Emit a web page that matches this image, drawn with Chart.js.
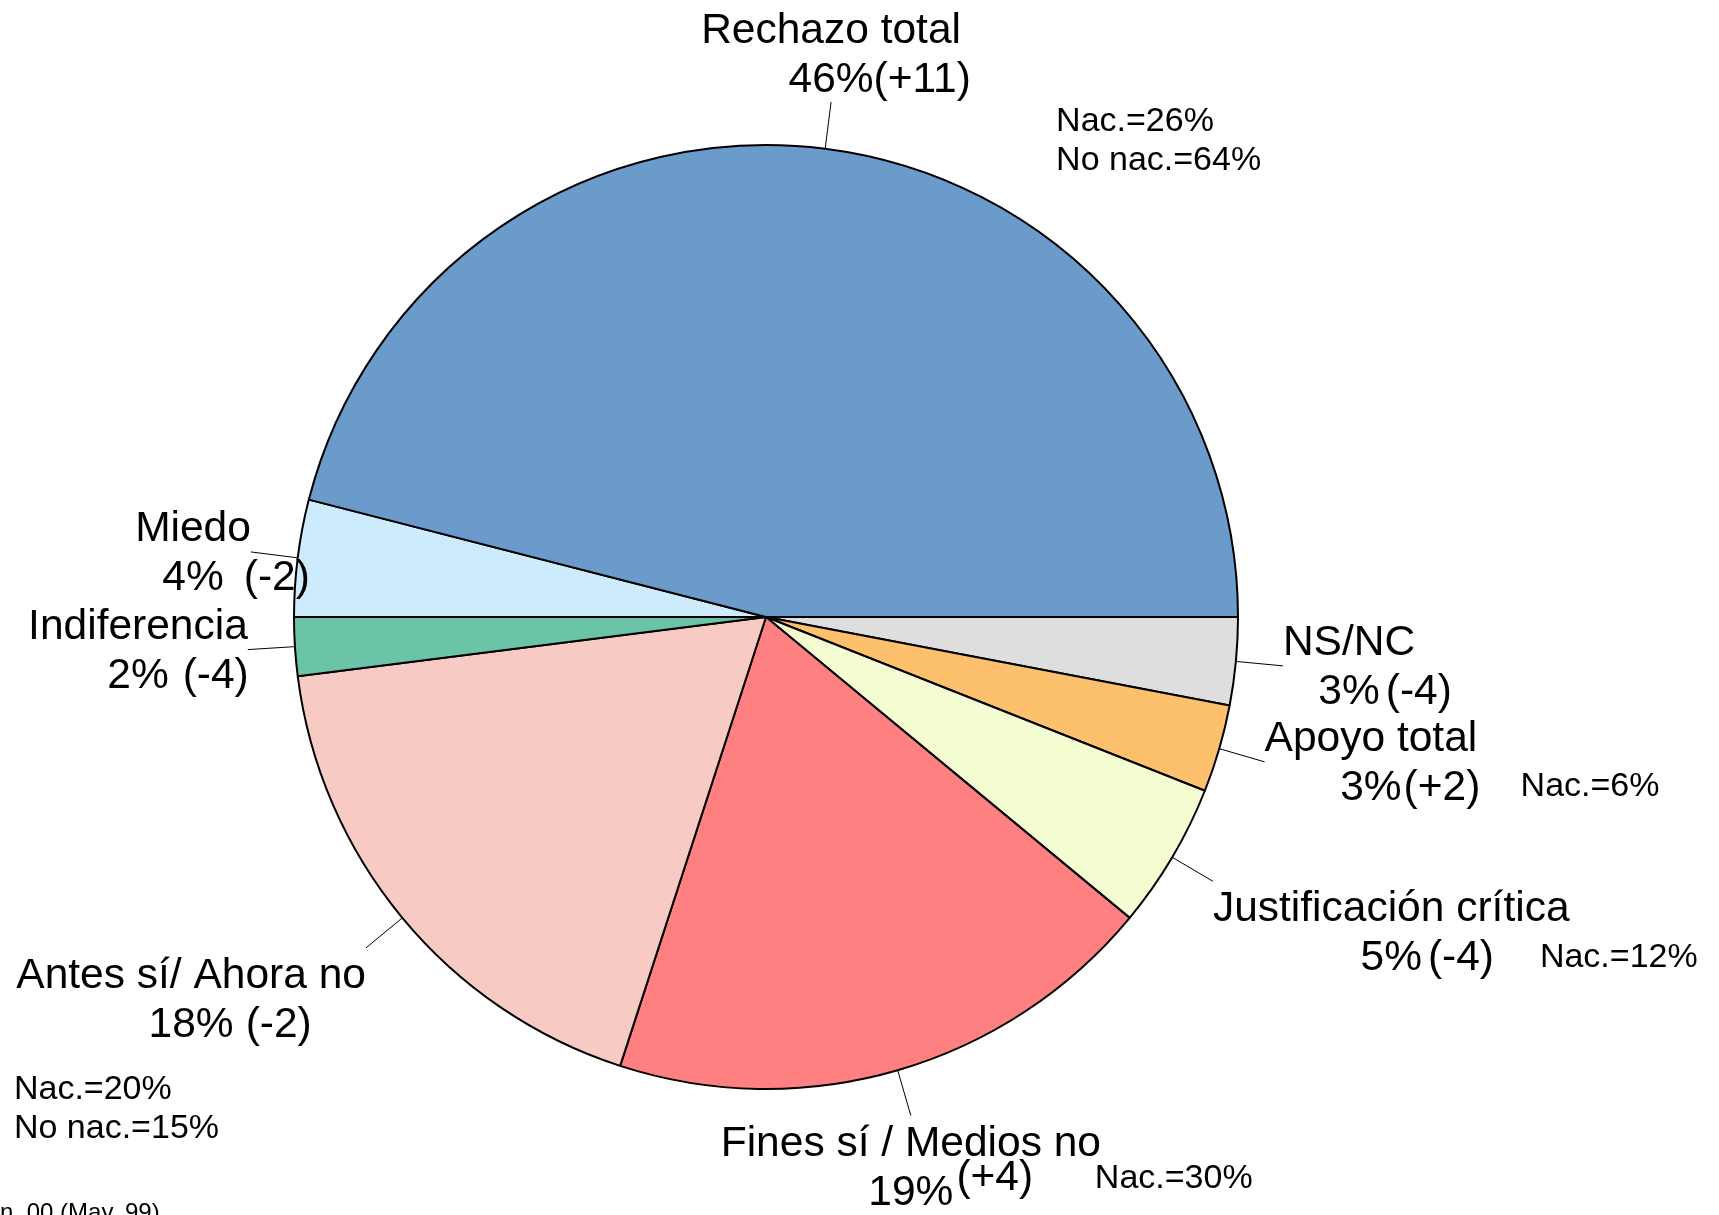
<!DOCTYPE html>
<html>
<head>
<meta charset="utf-8">
<title>Pie</title>
<script src="https://cdn.jsdelivr.net/npm/chart.js@4.4.1/dist/chart.umd.min.js"></script>
<style>
	html, body { margin: 0; padding: 0; background: #fff; }
	#wrap { position: relative; width: 1719px; height: 1215px; }
</style>
</head>
<body>
<div id="wrap"><canvas id="pie"></canvas></div>
<script>

// data, in the order of the picture (counterclockwise from the right)
var categories = ['Rechazo total','Miedo','Indiferencia','Antes sí/ Ahora no','Fines sí / Medios no','Justificación crítica','Apoyo total','NS/NC'];
var values = [46,4,2,18,19,5,3,3];
var changes = ['(+11)','(-2)','(-4)','(-2)','(+4)','(-4)','(+2)','(-4)'];
var notes = [['Nac.=26%','No nac.=64%'],[],[],['Nac.=20%','No nac.=15%'],['Nac.=30%'],['Nac.=12%'],['Nac.=6%'],[]];
var colors = ['#6A9BCB','#CDEBFC','#6CC4A8','#F7CBC4','#FF8080','#F4FDD1','#FDC06C','#DEDEDE'];
var footnote = 'n. 00 (May. 99)';

// label placement relative to the end of each leader line
var layout = [
	{h:'center', v:'bottom', gap:0,  rise:0,  ndx:225,  ndy:29},
	{h:'right',  v:'middle', gap:20, rise:0},
	{h:'right',  v:'middle', gap:14, rise:0},
	{h:'right',  v:'top',    gap:12, rise:0,  ndx:-352, ndy:151},
	{h:'center', v:'top',    gap:3,  rise:15, ndx:184,  ndy:72},
	{h:'left',   v:'top',    gap:6,  rise:0,  ndx:327,  ndy:86},
	{h:'left',   v:'middle', gap:2,  rise:0,  ndx:256,  ndy:34},
	{h:'left',   v:'middle', gap:6,  rise:0}
];

var FONT = '"Liberation Sans", Arial, sans-serif';
var LH = 49;

// chart.js runs clockwise, so feed it the reversed order
var idx = [];
for(var i=values.length-1;i>=0;i--) idx.push(i);

var labelPlugin = {
	id: 'pieLabels',
	afterDatasetsDraw: function(chart) {
		var ctx = chart.ctx;
		var arcs = chart.getDatasetMeta(0).data;
		ctx.save();
		ctx.textBaseline = 'alphabetic';
		for(var k=0;k<arcs.length;k++) {
			var i = idx[k];
			var p = arcs[k].getProps(['x','y','startAngle','endAngle','outerRadius'], true);
			var mid = (p.startAngle + p.endAngle) / 2;
			var r = p.outerRadius;
			var ax = p.x + 1.1*r*Math.cos(mid);
			var ay = p.y + 1.1*r*Math.sin(mid);

			// leader line
			ctx.strokeStyle = '#000';
			ctx.lineWidth = 1;
			ctx.beginPath();
			ctx.moveTo(p.x + r*Math.cos(mid), p.y + r*Math.sin(mid));
			ctx.lineTo(ax, ay);
			ctx.stroke();

			var L = layout[i];
			var lines = [categories[i], values[i] + '%'];
			ctx.font = '42.5px ' + FONT;
			ctx.fillStyle = '#000';
			var w = Math.max(ctx.measureText(lines[0]).width, ctx.measureText(lines[1]).width);
			var left = L.h == 'left' ? ax : (L.h == 'right' ? ax - w : ax - w/2);
			var b1 = L.v == 'top' ? ay + 40 : (L.v == 'middle' ? ay - 11 : ay - 10 - LH);
			ctx.textAlign = 'center';
			ctx.fillText(lines[0], left + w/2, b1);
			ctx.fillText(lines[1], left + w/2, b1 + LH);

			// change vs previous wave
			var pw = ctx.measureText(lines[1]).width;
			ctx.textAlign = 'left';
			ctx.fillText(changes[i], left + w/2 + pw/2 + L.gap, b1 + LH - L.rise);

			// subgroup notes
			if(notes[i].length) {
				ctx.font = '34px ' + FONT;
				for(var n=0;n<notes[i].length;n++) {
					ctx.fillText(notes[i][n], ax + L.ndx, ay + L.ndy + n*39);
				}
			}
		}
		ctx.font = '24px ' + FONT;
		ctx.textAlign = 'left';
		ctx.fillText(footnote, 0, 1220);
		ctx.restore();
	}
};

var chart = new Chart(document.getElementById('pie'), {
	type: 'pie',
	data: {
		labels: idx.map(function(i){ return categories[i]; }),
		datasets: [{
			data: idx.map(function(i){ return values[i]; }),
			backgroundColor: idx.map(function(i){ return colors[i]; }),
			borderColor: '#000',
			borderWidth: 2,
			radius: 472
		}]
	},
	options: {
		responsive: true,
		maintainAspectRatio: false,
		devicePixelRatio: 1,
		animation: false,
		events: [],
		rotation: 90,
		layout: {padding: {left: 0, right: 187, top: 19, bottom: 0}},
		plugins: {legend: {display: false}, tooltip: {enabled: false}}
	},
	plugins: [labelPlugin]
});

</script>
</body>
</html>
